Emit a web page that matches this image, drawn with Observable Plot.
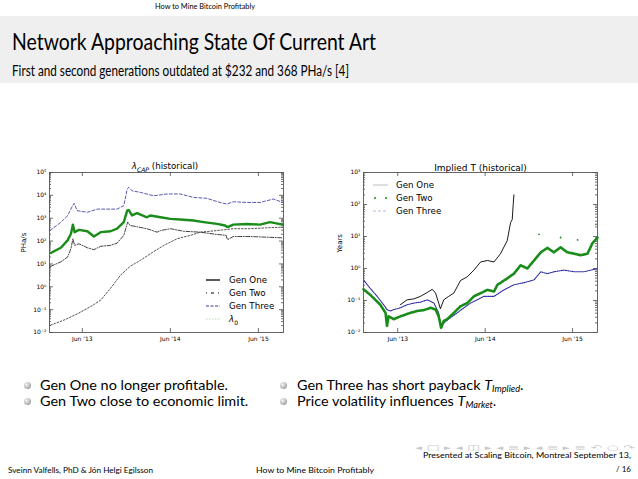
<!DOCTYPE html>
<html><head><meta charset="utf-8">
<script src="https://cdn.jsdelivr.net/npm/d3@7"></script>
<script src="https://cdn.jsdelivr.net/npm/@observablehq/plot@0.6"></script>
<style>
html,body{margin:0;padding:0;background:#fff;}
body{width:638px;height:479px;position:relative;overflow:hidden;font-family:Lato,"Open Sans",sans-serif;color:#000;}
.abs{position:absolute;white-space:nowrap;line-height:1;}
.band{position:absolute;left:0;top:16px;width:638px;height:67px;background:#efefef;}
.ball{position:absolute;width:7px;height:7px;border-radius:50%;background:radial-gradient(circle at 35% 35%,#f4f4f4 0%,#b9b9b9 55%,#7d7d7d 100%);}
.chart{position:absolute;}
.chart svg{overflow:visible;}
.leg{position:absolute;height:12px;line-height:12px;font-family:"DejaVu Sans",sans-serif;font-size:8.7px;white-space:nowrap;}
.leg svg{vertical-align:middle;display:inline-block;}
.leg span{vertical-align:middle;}
sub{line-height:0;font-size:70%;}
.bl sub{font-size:64%;vertical-align:-0.18em;}
</style></head><body>

<div class="abs" data-w="100" style="left:155px;top:2.7px;font-size:7.5px;">How to Mine Bitcoin Profitably</div>
<div class="band"></div>
<div class="abs" data-w="364" style="left:12px;top:30.3px;font-size:23px;">Network Approaching State Of Current Art</div>
<div class="abs" data-w="337" style="left:12px;top:63.8px;font-size:14.5px;">First and second generations outdated at $232 and 368 PHa/s [4]</div>

<div id="left" class="chart" style="left:0px;top:155px;"></div>
<div id="right" class="chart" style="left:320px;top:155px;"></div>

<div class="abs" style="left:165px;top:162px;transform:translateX(-50%);font-family:'DejaVu Sans',sans-serif;font-size:8.7px;"><i>λ</i><sub><i>CAP</i></sub> (historical)</div>

<div class="leg" style="left:206px;top:273px;"><svg width="14" height="8"><line x1="0" y1="4" x2="14" y2="4" stroke="#000" stroke-width="1.3"/></svg><span style="margin-left:9px">Gen One</span></div>
<div class="leg" style="left:206px;top:286px;"><svg width="14" height="8"><line x1="0" y1="4" x2="14" y2="4" stroke="#000" stroke-width="1" stroke-dasharray="1,4,3,4"/></svg><span style="margin-left:9px">Gen Two</span></div>
<div class="leg" style="left:206px;top:299px;"><svg width="14" height="8"><line x1="0" y1="4" x2="14" y2="4" stroke="#3a3a9a" stroke-width="1" stroke-dasharray="3,1.5"/></svg><span style="margin-left:9px">Gen Three</span></div>
<div class="leg" style="left:206px;top:312px;"><svg width="14" height="8"><line x1="0" y1="4" x2="14" y2="4" stroke="#b8dcb8" stroke-width="1.2" stroke-dasharray="1.5,1.5"/></svg><span style="margin-left:9px"><i>λ</i><sub>0</sub></span></div>

<div class="leg" style="left:373px;top:178px;"><svg width="15" height="8"><line x1="0" y1="4" x2="15" y2="4" stroke="#c8c8c8" stroke-width="1.2"/></svg><span style="margin-left:8px">Gen One</span></div>
<div class="leg" style="left:373px;top:191px;"><svg width="15" height="8"><circle cx="2" cy="4" r="1" fill="#1a8c1a"/><circle cx="13" cy="4" r="1" fill="#1a8c1a"/></svg><span style="margin-left:8px">Gen Two</span></div>
<div class="leg" style="left:373px;top:204px;"><svg width="15" height="8"><line x1="0" y1="4" x2="15" y2="4" stroke="#b9b9e0" stroke-width="1" stroke-dasharray="3,2"/></svg><span style="margin-left:8px">Gen Three</span></div>

<div class="ball" style="left:23.5px;top:381.5px;"></div>
<div class="ball" style="left:23.5px;top:398px;"></div>
<div class="ball" style="left:279.5px;top:381.5px;"></div>
<div class="ball" style="left:279.5px;top:398px;"></div>
<div class="abs bl" data-g="b" data-w="164" style="left:40px;top:379.3px;font-size:13.5px;">Gen One no longer profitable.</div>
<div class="abs bl" data-g="b" data-w="170" style="left:40px;top:395.3px;font-size:13.5px;">Gen Two close to economic limit.</div>
<div class="abs bl" data-g="b" data-w="250" style="left:297px;top:379.3px;font-size:13.5px;">Gen Three has short payback <i>T</i><sub><i>Implied</i></sub>.</div>
<div class="abs bl" data-g="b" data-w="238" style="left:297px;top:395.3px;font-size:13.5px;">Price volatility influences <i>T</i><sub><i>Market</i></sub>.</div>

<div class="abs" data-w="220" style="left:415px;top:445px;font-size:7px;color:#c8c8c8;font-family:'DejaVu Sans',sans-serif;">◂ □ ▸ ◂ ◫ ▸ ◂ ≡ ▸ ◂ ≡ ▸ ≡ ↶ ○ ↷</div>
<div class="abs" data-w="208" style="left:423px;top:451.7px;font-size:7.5px;">Presented at Scaling Bitcoin, Montreal September 13,</div>
<div class="abs" data-w="15" style="left:616px;top:466px;font-size:7.5px;">/ 16</div>
<div class="abs" data-w="145" style="left:8px;top:467px;font-size:7.5px;">Sveinn Valfells, PhD &amp; Jón Helgi Egilsson</div>
<div class="abs" data-w="118" style="left:256px;top:467px;font-size:7.5px;">How to Mine Bitcoin Profitably</div>

<script>
// ---------- shared axis data ----------
const xTickDates = ["2013-06-01", "2014-06-01", "2015-06-01"];
const xTickLabels = ["Jun '13", "Jun '14", "Jun '15"];

// ---------- left chart: lambda_CAP (historical), PHa/s ----------
const leftYTicks = [1e-2, 1e-1, 1e0, 1e1, 1e2, 1e3, 1e4, 1e5];

const capGen3Dates = ["2013-01-18","2013-03-04","2013-04-01","2013-04-22","2013-04-28","2013-05-11","2013-06-22","2013-08-02","2013-10-23","2013-11-20","2013-12-04","2013-12-10","2013-12-24","2014-01-28","2014-03-24","2014-05-18","2014-07-12","2014-09-05","2014-10-30","2014-12-24","2015-01-21","2015-02-17","2015-04-13","2015-06-08","2015-08-02","2015-09-10"];
const capGen3 = [290, 660, 1290, 3550, 4470, 2140, 1820, 2500, 2500, 3550, 18600, 22400, 15800, 13500, 9550, 11500, 11500, 8130, 7400, 4900, 4170, 5250, 4900, 4900, 6900, 4900];

const capGen2Dates = ["2013-01-21","2013-03-04","2013-04-01","2013-04-15","2013-04-23","2013-04-30","2013-05-18","2013-06-22","2013-07-19","2013-08-16","2013-09-26","2013-10-23","2013-11-20","2013-12-04","2013-12-10","2013-12-24","2014-01-14","2014-02-24","2014-03-10","2014-04-21","2014-06-01","2014-07-26","2014-09-05","2014-10-17","2014-12-11","2015-01-14","2015-01-24","2015-02-17","2015-04-13","2015-06-08","2015-07-19","2015-09-10"];
const capGen2 = [30, 51, 107, 209, 525, 245, 309, 269, 158, 245, 269, 347, 676, 2140, 2290, 1320, 1660, 1100, 1320, 1100, 933, 851, 794, 676, 562, 479, 407, 525, 562, 525, 676, 525];

const capGen1Dates = ["2013-01-21","2013-03-04","2013-04-01","2013-04-15","2013-04-23","2013-04-30","2013-05-18","2013-06-22","2013-07-19","2013-08-16","2013-09-26","2013-10-23","2013-11-20","2013-12-06","2013-12-17","2014-01-07","2014-02-24","2014-04-07","2014-04-21","2014-06-01","2014-07-26","2014-10-03","2014-12-11","2015-01-18","2015-01-24","2015-02-17","2015-04-27","2015-07-05","2015-09-10"];
const capGen1 = [7.9, 12.3, 20, 47, 126, 65, 76, 51, 42, 59, 65, 81, 178, 676, 479, 437, 347, 245, 288, 347, 269, 245, 195, 178, 115, 158, 158, 148, 138];

const lambda0Dates = ["2013-01-21","2013-03-17","2013-05-11","2013-07-05","2013-08-16","2013-09-26","2013-11-06","2013-12-17","2014-01-28","2014-03-10","2014-05-05","2014-06-29","2014-08-23","2014-10-03","2014-12-11","2015-02-17","2015-04-27","2015-07-05","2015-09-10"];
const lambda0 = [0.021, 0.035, 0.065, 0.135, 0.26, 0.85, 3.2, 7.9, 14.5, 28, 65, 126, 178, 245, 288, 347, 347, 380, 407];

// ---------- right chart: Implied T (historical), years ----------
const rightYTicks = [1e-2, 1e-1, 1e0, 1e1, 1e2, 1e3];

const tGen1Dates = ["2013-06-12","2013-07-10","2013-08-07","2013-09-04","2013-10-02","2013-10-23","2013-11-06","2013-11-19","2013-11-26","2013-12-10","2013-12-31","2014-01-21","2014-02-18","2014-03-18","2014-04-15","2014-05-13","2014-06-10","2014-07-08","2014-08-04","2014-09-01","2014-09-15","2014-09-22","2014-09-26","2014-09-29"];
const tGen1 = [0.074, 0.105, 0.112, 0.135, 0.178, 0.224, 0.170, 0.083, 0.055, 0.105, 0.135, 0.170, 0.42, 0.55, 0.89, 1.6, 1.78, 1.6, 2.9, 7.4, 27, 34, 100, 200];

const tGen2Dates = ["2013-01-09","2013-02-06","2013-03-20","2013-04-11","2013-04-17","2013-04-24","2013-05-15","2013-06-12","2013-07-24","2013-08-21","2013-09-18","2013-10-16","2013-11-06","2013-11-19","2013-11-29","2013-12-10","2013-12-24","2014-01-21","2014-02-18","2014-03-18","2014-04-15","2014-05-13","2014-06-10","2014-07-08","2014-07-22","2014-09-01","2014-09-29","2014-10-27","2014-11-24","2014-12-22","2015-01-19","2015-02-16","2015-03-15","2015-04-12","2015-05-10","2015-06-08","2015-07-05","2015-08-02","2015-08-23","2015-09-13"];
const tGen2 = [0.224, 0.151, 0.074, 0.041, 0.016, 0.032, 0.026, 0.032, 0.041, 0.047, 0.050, 0.059, 0.052, 0.032, 0.014, 0.023, 0.026, 0.041, 0.066, 0.083, 0.135, 0.170, 0.214, 0.191, 0.309, 0.49, 0.69, 1.26, 1.0, 1.78, 3.2, 4.4, 3.2, 4.6, 3.2, 2.9, 2.6, 2.9, 6.2, 9.3];
const tGen2OutlierDates = ["2015-01-12", "2015-04-12", "2015-06-22", "2015-09-06"];
const tGen2Outliers = [11.7, 9.3, 7.8, 24];

const tGen3Dates = ["2013-01-09","2013-02-06","2013-03-07","2013-04-03","2013-04-17","2013-05-01","2013-05-15","2013-06-12","2013-07-10","2013-08-07","2013-09-04","2013-10-02","2013-10-30","2013-11-19","2013-11-29","2013-12-10","2014-01-07","2014-02-04","2014-03-04","2014-04-01","2014-04-29","2014-05-27","2014-07-08","2014-08-18","2014-09-29","2014-11-10","2014-12-22","2015-01-19","2015-02-16","2015-03-15","2015-04-26","2015-06-08","2015-07-19","2015-08-16","2015-09-13"];
const tGen3 = [0.44, 0.24, 0.135, 0.074, 0.052, 0.047, 0.052, 0.059, 0.074, 0.083, 0.089, 0.105, 0.083, 0.041, 0.014, 0.020, 0.029, 0.041, 0.059, 0.083, 0.105, 0.135, 0.135, 0.214, 0.309, 0.36, 0.44, 0.79, 0.69, 0.79, 0.89, 0.79, 0.79, 0.89, 1.0];

// ---------- helpers ----------
const rows = (dates, vals) => dates.map((d, i) => ({date: new Date(d), v: vals[i]}));
const supMap = {"-": "⁻", "0": "⁰", "1": "¹", "2": "²", "3": "³", "4": "⁴", "5": "⁵", "6": "⁶", "7": "⁷", "8": "⁸", "9": "⁹"};
const pow10 = v => "10" + String(Math.round(Math.log10(v))).split("").map(c => supMap[c]).join("");
const xTicks = xTickDates.map(d => new Date(d));
const xFmt = d => xTickLabels[xTicks.findIndex(t => +t === +d)];

function minorTicks(major) {
  const out = [];
  for (let i = 0; i < major.length - 1; i++) for (let k = 2; k <= 9; k++) out.push(major[i] * k);
  return out;
}

function makeChart(cfg) {
  const {W, H, ml, mr, mt, mb, xDomain, yTicks, ylabel, labelDx, marks} = cfg;
  const fw = W - ml - mr, fh = H - mt - mb;
  const minor = minorTicks(yTicks);
  const tk = {stroke: "#333", strokeWidth: 0.7};
  return Plot.plot({
    width: W, height: H, marginLeft: ml, marginRight: mr, marginTop: mt, marginBottom: mb,
    style: {background: "transparent", fontFamily: "'DejaVu Sans', sans-serif", fontSize: "6px", color: "#000"},
    x: {type: "utc", domain: xDomain.map(d => new Date(d))},
    y: {type: "log", domain: [yTicks[0], yTicks[yTicks.length - 1]]},
    marks: [
      Plot.axisX(xTicks, {tickSize: 0, tickPadding: 4, tickFormat: xFmt, label: null, fontSize: 6}),
      Plot.axisY(yTicks, {tickSize: 0, tickPadding: 3, tickFormat: pow10, label: null, fontSize: 6}),
      Plot.tickY(yTicks, {y: d => d, insetRight: fw - 4, ...tk}),
      Plot.tickY(yTicks, {y: d => d, insetLeft: fw - 4, ...tk}),
      Plot.tickY(minor, {y: d => d, insetRight: fw - 2, ...tk}),
      Plot.tickY(minor, {y: d => d, insetLeft: fw - 2, ...tk}),
      Plot.tickX(xTicks, {x: d => d, insetTop: fh - 4, ...tk}),
      Plot.tickX(xTicks, {x: d => d, insetBottom: fh - 4, ...tk}),
      Plot.text([ylabel], {frameAnchor: "left", rotate: -90, dx: labelDx, fontSize: 7, text: d => d}),
      ...marks,
      Plot.frame({stroke: "#555", strokeWidth: 0.9})
    ]
  });
}

const left = makeChart({
  W: 300, H: 195, ml: 49, mr: 17, mt: 17, mb: 18,
  xDomain: ["2013-01-16", "2015-09-13"], yTicks: leftYTicks, ylabel: "PHa/s", labelDx: -26,
  marks: [
    Plot.line(rows(lambda0Dates, lambda0), {x: "date", y: "v", stroke: "#222", strokeWidth: 0.8, strokeDasharray: "1.6,1.8"}),
    Plot.line(rows(capGen3Dates, capGen3), {x: "date", y: "v", stroke: "#30309a", strokeWidth: 0.8, strokeDasharray: "3,2"}),
    Plot.line(rows(capGen1Dates, capGen1), {x: "date", y: "v", stroke: "#111", strokeWidth: 0.8, strokeDasharray: "4,1.5,1,1.5"}),
    Plot.line(rows(capGen2Dates, capGen2), {x: "date", y: "v", stroke: "#1a8c1a", strokeWidth: 2.4})
  ]
});
document.getElementById("left").append(left);

const right = makeChart({
  W: 300, H: 195, ml: 43, mr: 23, mt: 17, mb: 18,
  xDomain: ["2013-01-09", "2015-09-13"], yTicks: rightYTicks, ylabel: "Years", labelDx: -24,
  marks: [
    Plot.text(["Implied T (historical)"], {frameAnchor: "top", lineAnchor: "bottom", dy: -1.5, fontSize: 9, text: d => d}),
    Plot.line(rows(tGen1Dates, tGen1), {x: "date", y: "v", stroke: "#000", strokeWidth: 0.9}),
    Plot.line(rows(tGen3Dates, tGen3), {x: "date", y: "v", stroke: "#2a2aa0", strokeWidth: 1.1, strokeDasharray: "1.2,1"}),
    Plot.line(rows(tGen2Dates, tGen2), {x: "date", y: "v", stroke: "#1a8c1a", strokeWidth: 2.6, strokeDasharray: "1.5,0.6"}),
    Plot.dot(rows(tGen2OutlierDates, tGen2Outliers), {x: "date", y: "v", r: 0.9, fill: "#1a8c1a", stroke: null})
  ]
});
document.getElementById("right").append(right);

// fit slide texts to the widths measured on the reference
const groups = {};
document.querySelectorAll("[data-w]").forEach(el => {
  const w = el.getBoundingClientRect().width;
  const g = el.dataset.g;
  if (g) { (groups[g] = groups[g] || {els: [], nat: 0, tgt: 0}); groups[g].els.push(el); groups[g].nat += w; groups[g].tgt += +el.dataset.w; return; }
  el.style.transformOrigin = "0 0";
  el.style.transform = `scaleX(${(+el.dataset.w) / w})`;
});
Object.values(groups).forEach(g => {
  const s = g.tgt / g.nat;
  g.els.forEach(el => { el.style.transformOrigin = "0 0"; el.style.transform = `scaleX(${s})`; });
});
</script>
</body></html>
